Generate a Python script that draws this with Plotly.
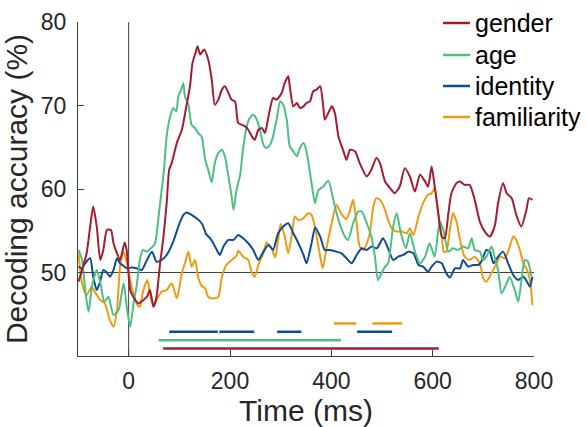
import plotly.graph_objects as go

# ---------------- data ----------------
gender_t = [-99, -83, -76, -70, -63, -56, -50, -43, -35, -30, -23, -17, -8, -4, 3, 9, 19, 29, 36, 42, 49, 55, 62, 68, 75, 80, 85, 95, 105, 115, 121, 126, 131, 136, 141, 149, 157, 164, 170, 177, 184, 190, 197, 203, 210, 216, 223, 230, 236, 243, 249, 256, 263, 269, 276, 285, 292, 302, 308, 315, 318, 325, 332, 338, 345, 351, 358, 364, 371, 378, 384, 387, 394, 401, 407, 414, 423, 430, 437, 447, 456, 470, 479, 489, 496, 506, 516, 525, 535, 545, 555, 565, 575, 585, 591, 598, 604, 611, 618, 624, 631, 637, 647, 654, 663, 673, 683, 693, 703, 713, 723, 729, 739, 746, 756, 765, 775, 785, 790, 797]
gender_v = [48.9, 52.3, 55.5, 57.9, 55.5, 51.5, 52.7, 55.1, 55.1, 53.5, 52.3, 51.5, 53.6, 52.7, 47.9, 47.1, 46.3, 46.7, 47.1, 47.9, 45.9, 47.1, 51.1, 53.9, 58.3, 62.3, 63.1, 65.5, 67.1, 70.3, 72.3, 75.1, 76.1, 77.1, 76.1, 76.7, 75.5, 73.1, 70.1, 70.7, 71.9, 72.3, 71.5, 70.7, 70.5, 67.9, 67.7, 67.5, 67.1, 66.3, 65.9, 67.1, 67.3, 66.7, 68.7, 70.9, 70.7, 71.5, 72.7, 73.5, 72.3, 69.9, 70.3, 69.7, 69.9, 70.3, 70.5, 71.7, 71.9, 72.3, 69.9, 68.3, 69.1, 69.9, 69.1, 66.3, 64.7, 63.5, 64.7, 64.5, 63.1, 61.5, 62.3, 63.7, 63.1, 60.9, 60.1, 59.5, 60.3, 62.5, 61.5, 59.7, 61.7, 60.9, 60.3, 62.7, 60.3, 57.1, 54.3, 54.1, 57.1, 59.5, 60.7, 60.9, 60.5, 60.5, 58.7, 56.1, 54.9, 54.3, 55.7, 58.3, 60.7, 59.5, 58.9, 56.9, 55.5, 57.5, 58.9, 58.7]

age_t = [-99, -92, -85, -79, -72, -63, -55, -48, -40, -30, -20, -10, -3, 3, 10, 16, 22, 28, 36, 44, 52, 59, 65, 70, 75, 82, 88, 94, 98, 105, 108, 111, 118, 124, 131, 137, 144, 151, 157, 164, 170, 177, 184, 190, 197, 203, 207, 213, 220, 226, 233, 239, 246, 253, 259, 266, 272, 279, 285, 292, 299, 305, 312, 318, 325, 332, 338, 345, 351, 358, 364, 368, 374, 384, 394, 404, 414, 427, 433, 443, 453, 460, 470, 479, 486, 492, 499, 506, 512, 522, 529, 537, 547, 555, 565, 575, 585, 594, 604, 614, 621, 631, 640, 650, 660, 670, 677, 683, 693, 700, 706, 716, 723, 729, 736, 746, 752, 762, 769, 776, 782, 788, 795]
age_v = [52.7, 51.5, 47.5, 45.3, 48.5, 50.3, 48.5, 46.5, 47.1, 44.9, 45.5, 48.7, 45.5, 43.5, 46.5, 48.5, 51.5, 52.7, 52.5, 52.9, 53.5, 56.7, 59.8, 62.5, 66.3, 68.7, 69.7, 69.3, 71.1, 72.1, 72.7, 71.1, 70.1, 67.7, 67.3, 66.7, 66.3, 63.5, 62.3, 60.8, 63.1, 64.3, 64.7, 63.9, 61.5, 59.2, 57.5, 59.9, 61.7, 64.9, 67.5, 68.5, 68.9, 68.3, 67.1, 65.3, 64.9, 65.3, 66.3, 68.3, 70.5, 70.1, 68.3, 65.1, 64.5, 63.9, 64.9, 65.5, 64.5, 61.9, 59.5, 58.3, 59.8, 60.3, 61.0, 58.7, 56.3, 54.3, 53.9, 55.9, 57.3, 57.3, 55.9, 54.3, 51.9, 49.1, 49.9, 50.7, 51.1, 55.5, 57.1, 54.8, 52.9, 54.7, 52.5, 51.1, 51.9, 53.5, 51.9, 56.1, 55.1, 52.5, 52.9, 52.7, 53.1, 52.9, 54.1, 52.7, 52.5, 51.5, 51.9, 53.1, 51.7, 50.3, 47.5, 48.7, 49.5, 47.9, 46.5, 49.5, 51.5, 51.3, 49.5]

identity_t = [-99, -92, -86, -76, -70, -63, -56, -50, -43, -37, -30, -23, -17, -10, -4, 6, 16, 26, 36, 46, 55, 65, 75, 88, 98, 108, 115, 124, 134, 144, 154, 161, 167, 174, 180, 187, 197, 207, 216, 226, 236, 246, 256, 266, 276, 285, 295, 305, 315, 325, 335, 345, 351, 361, 368, 378, 387, 397, 410, 420, 430, 440, 450, 460, 470, 479, 490, 502, 512, 522, 532, 542, 552, 562, 572, 581, 591, 598, 608, 618, 627, 634, 644, 654, 660, 670, 680, 690, 696, 706, 713, 720, 729, 739, 749, 759, 769, 779, 788, 792, 797]
identity_v = [50.7, 50.5, 51.1, 51.7, 49.5, 47.9, 49.0, 50.3, 50.0, 49.5, 50.3, 51.7, 51.1, 50.8, 50.5, 50.6, 50.5, 50.3, 51.5, 52.5, 51.3, 51.5, 52.1, 53.7, 55.5, 56.9, 57.2, 56.9, 56.5, 55.9, 54.5, 54.1, 53.5, 52.7, 52.1, 53.1, 53.9, 53.9, 54.5, 54.1, 53.5, 52.7, 51.5, 52.5, 53.3, 52.7, 54.7, 55.5, 55.9, 54.7, 53.5, 52.1, 51.1, 53.5, 55.4, 54.3, 52.7, 52.7, 52.5, 52.3, 51.7, 51.1, 52.1, 52.9, 52.7, 53.1, 52.9, 54.1, 52.9, 51.5, 51.9, 52.1, 52.5, 52.3, 50.9, 50.7, 50.1, 50.7, 51.3, 51.1, 49.9, 49.4, 50.5, 50.5, 51.5, 50.7, 50.9, 50.9, 51.3, 52.7, 52.5, 51.1, 51.9, 52.5, 51.1, 49.7, 49.1, 49.5, 48.7, 48.3, 49.5]

familiarity_t = [-99, -92, -83, -73, -65, -56, -47, -37, -30, -23, -17, -10, -4, 3, 9, 16, 22, 29, 37, 42, 49, 55, 65, 75, 85, 95, 105, 111, 118, 124, 131, 137, 144, 151, 157, 164, 170, 177, 184, 193, 203, 213, 216, 226, 236, 243, 249, 256, 266, 272, 282, 289, 295, 300, 308, 315, 322, 328, 335, 345, 354, 361, 368, 378, 383, 391, 401, 410, 420, 430, 437, 443, 450, 456, 463, 470, 476, 483, 489, 496, 506, 512, 519, 529, 539, 549, 555, 562, 572, 581, 591, 598, 604, 611, 618, 622, 627, 634, 640, 647, 654, 663, 673, 683, 693, 700, 706, 716, 726, 733, 743, 752, 759, 765, 772, 779, 785, 792, 797]
familiarity_v = [52.3, 48.7, 47.3, 48.3, 47.5, 46.7, 46.3, 44.3, 43.5, 45.5, 50.7, 52.5, 51.3, 49.1, 47.5, 46.3, 45.9, 47.9, 49.1, 47.5, 45.9, 46.7, 47.7, 47.9, 48.7, 46.9, 49.9, 51.1, 52.5, 50.7, 51.5, 49.5, 48.4, 48.1, 47.1, 46.9, 46.9, 47.1, 49.5, 50.9, 51.5, 52.0, 52.6, 51.9, 51.5, 50.0, 49.5, 50.9, 52.3, 53.6, 52.9, 51.8, 53.9, 55.8, 54.3, 52.3, 54.5, 56.7, 56.3, 56.5, 57.1, 56.9, 55.3, 51.9, 50.5, 53.1, 56.0, 58.1, 57.0, 56.4, 57.5, 58.7, 55.9, 53.1, 52.7, 53.5, 54.7, 57.9, 58.9, 58.7, 57.5, 56.3, 55.3, 54.9, 54.9, 54.7, 55.3, 54.5, 56.7, 58.3, 59.3, 59.5, 60.1, 57.1, 54.3, 52.5, 52.5, 55.1, 57.1, 56.1, 53.9, 51.9, 51.5, 51.9, 51.1, 49.3, 48.9, 49.9, 51.1, 51.9, 51.7, 53.1, 54.3, 53.9, 52.7, 51.1, 50.5, 49.1, 46.1]

# significance periods (start, end in ms) and the level at which they are drawn
familiarity_sig = [(405, 449), (481, 540)]
identity_sig = [(80, 176), (179, 248), (293, 341), (451, 520)]
age_sig = [(59, 419)]
gender_sig = [(68, 612)]
sig_levels = {"familiarity": 43.9, "identity": 42.9, "age": 41.9, "gender": 40.9}

names = ["gender", "age", "identity", "familiarity"]
colors = {"gender": "#A31C30", "age": "#4DBF80", "identity": "#0E4C92", "familiarity": "#EE9A12"}
series = {
    "gender": (gender_t, gender_v),
    "age": (age_t, age_v),
    "identity": (identity_t, identity_v),
    "familiarity": (familiarity_t, familiarity_v),
}
sigs = {"gender": gender_sig, "age": age_sig, "identity": identity_sig, "familiarity": familiarity_sig}

x_range = [-100, 800]
y_range = [40, 80]
chance = 50

FONT = "Liberation Sans, Arial, Helvetica, sans-serif"
AX = "#404040"

fig = go.Figure()

# draw in reverse so gender lies on top
for n in reversed(names):
    t, v = series[n]
    fig.add_trace(go.Scatter(x=t, y=v, mode="lines", name=n,
                             line=dict(color=colors[n], width=2, shape="spline", smoothing=0.6),
                             showlegend=False))

# significance bars
for n in names:
    xs, ys = [], []
    for a, b in sigs[n]:
        xs += [a, b, None]
        ys += [sig_levels[n], sig_levels[n], None]
    fig.add_trace(go.Scatter(x=xs, y=ys, mode="lines", showlegend=False,
                             line=dict(color=colors[n], width=2.5)))

# chance level and stimulus onset
fig.add_shape(type="line", x0=x_range[0], x1=x_range[1], y0=chance, y1=chance,
              line=dict(color=AX, width=1), layer="below")
fig.add_shape(type="line", x0=0, x1=0, y0=y_range[0], y1=y_range[1],
              line=dict(color=AX, width=1), layer="below")

# legend (MATLAB-style, no box) in the upper right
leg_x0, leg_x1, leg_tx = 0.8004, 0.8596, 0.866
leg_y = [0.997, 0.9012, 0.8084, 0.7156]
for n, yy in zip(names, leg_y):
    fig.add_shape(type="line", xref="paper", yref="paper", x0=leg_x0, x1=leg_x1, y0=yy, y1=yy,
                  line=dict(color=colors[n], width=2.5))
    fig.add_annotation(xref="paper", yref="paper", x=leg_tx, y=yy, text=n, showarrow=False,
                       xanchor="left", yanchor="middle", font=dict(size=25, color="#000000"))

fig.update_layout(
    width=586, height=427,
    margin=dict(l=78, r=52, t=22, b=71, autoexpand=False),
    paper_bgcolor="white", plot_bgcolor="white",
    font=dict(family=FONT, size=23, color="#262626"),
    showlegend=False,
    xaxis=dict(range=x_range, tickvals=[0, 200, 400, 600, 800],
               showgrid=False, zeroline=False, showline=True, linecolor=AX, linewidth=1,
               ticks="inside", ticklen=6, tickcolor=AX, ticklabelstandoff=4,
               title=dict(text="Time (ms)", font=dict(size=30), standoff=4)),
    yaxis=dict(range=y_range, tickvals=[50, 60, 70, 80],
               showgrid=False, zeroline=False, showline=True, linecolor=AX, linewidth=1,
               ticks="inside", ticklen=6, tickcolor=AX, ticklabelstandoff=6,
               title=dict(text="Decoding accuracy (%)", font=dict(size=30), standoff=4)),
)

fig.write_html("out.html")
